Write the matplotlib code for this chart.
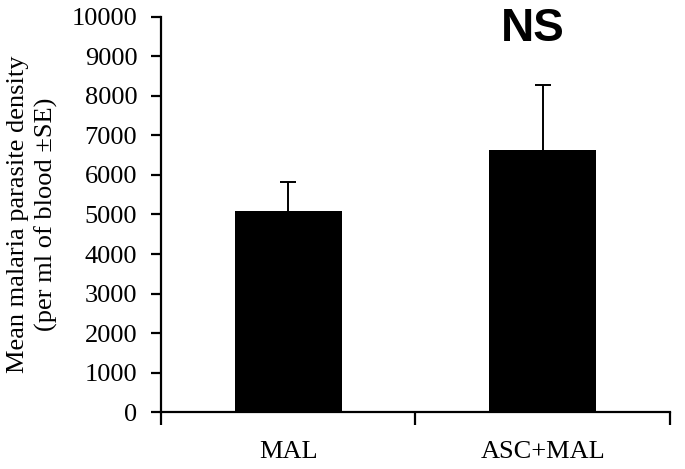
import matplotlib.pyplot as plt
import numpy as np

groups = ["MAL", "ASC+MAL"]
means = [5090, 6630]
upper_se = [730, 1650]
y_ticks = list(range(0, 10001, 1000))
note = "NS"

plt.rcParams["font.family"] = ["Liberation Serif", "DejaVu Serif"]

fig = plt.figure(figsize=(6.85, 4.69), dpi=100)
ax = fig.add_axes([0.235, 0.1215, 0.743, 0.8423])

x = np.arange(len(groups))
tops = np.array(means) + np.array(upper_se)
ax.bar(x, means, width=0.42, color="black", zorder=2)
ax.vlines(x, means, tops, color="black", linewidth=1.4, zorder=1)
ax.plot(x, tops, linestyle="none", marker="_", markersize=12,
        markeredgewidth=1.4, color="black", zorder=1)

ax.set_xlim(-0.5, len(groups) - 0.5)
ax.set_ylim(0, 10000)
ax.set_yticks(y_ticks)
ax.set_yticklabels([str(t) for t in y_ticks], fontsize=19)

ax.set_xticks(np.arange(len(groups) + 1) - 0.5)
ax.set_xticklabels([])
ax.set_xticks(x, minor=True)
ax.set_xticklabels(groups, minor=True, fontsize=19)
ax.tick_params(axis="x", which="minor", length=0, pad=21)
ax.tick_params(axis="x", which="major", direction="out", length=9, width=1.6)
ax.tick_params(axis="y", direction="out", length=7, width=1.6, pad=10)

for side in ("top", "right"):
    ax.spines[side].set_visible(False)
for side in ("left", "bottom"):
    ax.spines[side].set_linewidth(1.6)

ax.set_ylabel("Mean malaria parasite density\n(per ml of blood \u00b1SE)", fontsize=19,
              linespacing=1.3, labelpad=10)

ax.text(x[1] - 0.04, 9700, note, ha="center", va="center", fontsize=33,
        fontweight="bold", family=["Liberation Sans", "DejaVu Sans"])

fig.savefig("out.png", dpi=100)
